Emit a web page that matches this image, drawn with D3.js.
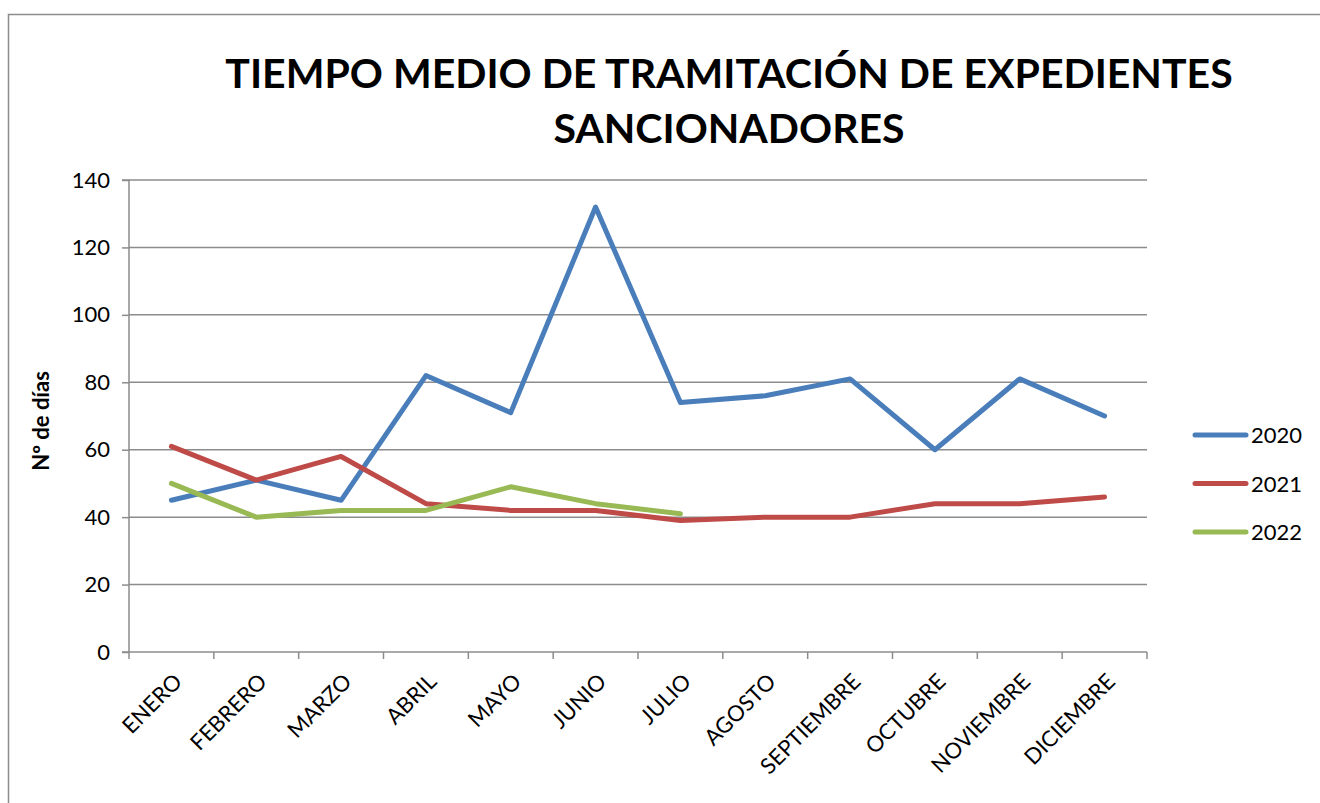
<!DOCTYPE html>
<html><head><meta charset="utf-8">
<script src="https://cdn.jsdelivr.net/npm/d3@7"></script>
<style>body{margin:0;background:#fff}svg{display:block}text{font-family:Lato,"Open Sans",sans-serif}</style>
</head><body><svg id="c" width="1320" height="803"></svg>
<script>
const months = ["ENERO","FEBRERO","MARZO","ABRIL","MAYO","JUNIO","JULIO","AGOSTO","SEPTIEMBRE","OCTUBRE","NOVIEMBRE","DICIEMBRE"];
const v2020 = [45,51,45,82,71,132,74,76,81,60,81,70];
const v2021 = [61,51,58,44,42,42,39,40,40,44,44,46];
const v2022 = [50,40,42,42,49,44,41];
const seriesNames = ["2020","2021","2022"];
const seriesColors = ["#4A7EBB","#BE4B48","#98B954"];
const yTicks = [0,20,40,60,80,100,120,140];
const titleLines = ["TIEMPO MEDIO DE TRAMITACIÓN DE EXPEDIENTES","SANCIONADORES"];
const yLabel = "Nº de días";

const svg = d3.select("#c");
svg.append("rect").attr("x",8.5).attr("y",14.5).attr("width",1340).attr("height",820)
  .attr("fill","none").attr("stroke","#8c8c8c").attr("stroke-width",1.5);

const L=129, R=1147, T=180, B=652;
const x = d3.scaleBand().domain(months).range([L,R]);
const y = d3.scaleLinear().domain([0,140]).range([B,T]);

// gridlines
svg.append("g").selectAll("line").data(yTicks.filter(d=>d>0)).join("line")
  .attr("x1",L).attr("x2",R).attr("y1",d=>y(d)).attr("y2",d=>y(d))
  .attr("stroke","#8c8c8c").attr("stroke-width",1.5);

// y axis
const ya = svg.append("g").attr("transform",`translate(${L},0)`)
  .call(d3.axisLeft(y).tickValues(yTicks).tickSize(7).tickPadding(12));
ya.select(".domain").attr("stroke","#8c8c8c").attr("stroke-width",1.5).attr("d",`M-7,${T}H0V${B}`);
ya.selectAll(".tick line").attr("stroke","#8c8c8c").attr("stroke-width",1.5);
ya.selectAll(".tick text").attr("font-size",22).attr("fill","#000").attr("font-family","Lato,sans-serif");

// x axis
const xa = svg.append("g").attr("transform",`translate(0,${B})`);
xa.append("line").attr("x1",L-7).attr("x2",R).attr("y1",0).attr("y2",0).attr("stroke","#8c8c8c").attr("stroke-width",1.5);
const edges = months.map(m=>x(m)).concat([R]);
xa.selectAll("line.t").data(edges).join("line").attr("class","t")
  .attr("x1",d=>d).attr("x2",d=>d).attr("y1",0).attr("y2",7).attr("stroke","#8c8c8c").attr("stroke-width",1.5);
xa.selectAll("text").data(months).join("text")
  .attr("transform",d=>`translate(${x(d)+x.bandwidth()/2+12},${31}) rotate(-45)`)
  .attr("text-anchor","end").attr("font-size",22).attr("fill","#000").text(d=>d);

// lines
const line = d3.line().x((d,i)=>x(months[i])+x.bandwidth()/2).y(d=>y(d));
[v2020,v2021,v2022].forEach((s,k)=>{
  svg.append("path").datum(s).attr("d",line).attr("fill","none")
    .attr("stroke",seriesColors[k]).attr("stroke-width",5).attr("stroke-linejoin","round").attr("stroke-linecap","round");
});

// title
svg.append("text").attr("text-anchor","middle").attr("font-size",41).attr("font-weight","bold")
  .selectAll("tspan").data(titleLines).join("tspan").attr("x",729).attr("y",(d,i)=>88+i*55).text(d=>d);

// y label
svg.append("text").attr("transform","translate(49,421) rotate(-90)").attr("text-anchor","middle")
  .attr("font-size",22).attr("font-weight","bold").text(yLabel);

// legend
seriesNames.forEach((n,k)=>{
  const ly = 435 + k*48.5;
  svg.append("line").attr("x1",1195).attr("x2",1246).attr("y1",ly).attr("y2",ly)
    .attr("stroke",seriesColors[k]).attr("stroke-width",5).attr("stroke-linecap","round");
  svg.append("text").attr("x",1251).attr("y",ly+8).attr("font-size",22).text(n);
});
</script></body></html>
